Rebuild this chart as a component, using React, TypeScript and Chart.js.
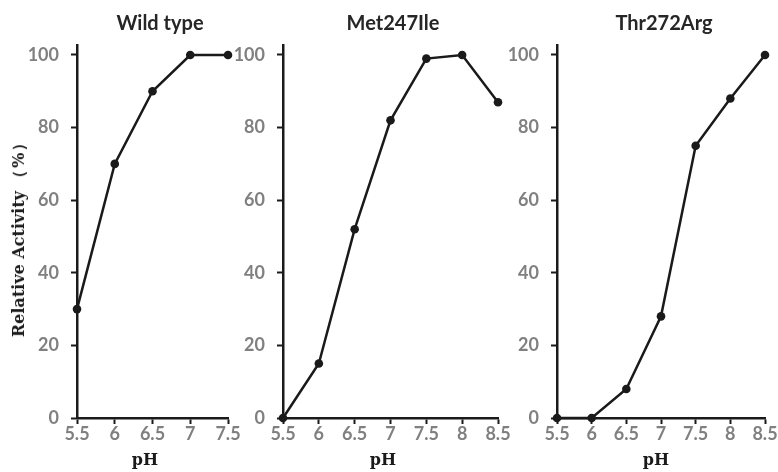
import React, { useEffect, useRef } from "react";
import { Chart, registerables } from "chart.js";

Chart.register(...registerables);

// ---- data ----
const panelTitles = ["Wild type", "Met247Ile", "Thr272Arg"];
const wildTypePH = ["5.5", "6", "6.5", "7", "7.5"];
const wildTypeActivity = [30, 70, 90, 100, 100];
const met247IlePH = ["5.5", "6", "6.5", "7", "7.5", "8", "8.5"];
const met247IleActivity = [0, 15, 52, 82, 99, 100, 87];
const thr272ArgPH = ["5.5", "6", "6.5", "7", "7.5", "8", "8.5"];
const thr272ArgActivity = [0, 0, 8, 28, 75, 88, 100];
const yTickValues = [0, 20, 40, 60, 80, 100];
const xAxisTitle = "pH";
const yAxisTitleMain = "Relative Activity";
const yAxisTitleUnit = "（%）";

// ---- layout ----
const W = 778;
const H = 472;
const AREA_TOP = 45;
const AREA_BOTTOM = 418;
const Y_MAX = 102.75;
const X_AXIS_H = 34;
const Y_AXIS_W = 60;

const panels = [
  { labels: wildTypePH, values: wildTypeActivity, left: 77, right: 228, titleX: 160, phX: 145 },
  { labels: met247IlePH, values: met247IleActivity, left: 283, right: 498, titleX: 393, phX: 383 },
  { labels: thr272ArgPH, values: thr272ArgActivity, left: 557, right: 765, titleX: 664, phX: 656 },
];

const INK = "#1a1a1a";
const TICK_FONT = { family: "Lato, 'Open Sans', sans-serif", size: 18, weight: "bold" as const };

function Panel({ idx }: { idx: number }) {
  const ref = useRef<HTMLCanvasElement | null>(null);
  useEffect(() => {
    const p = panels[idx];
    const chart = new Chart(ref.current!, {
      type: "line",
      data: {
        labels: p.labels,
        datasets: [
          {
            data: p.values,
            borderColor: INK,
            backgroundColor: INK,
            borderWidth: 2.5,
            pointRadius: 4.3,
            pointBackgroundColor: INK,
            pointBorderColor: INK,
            pointBorderWidth: 0,
            tension: 0,
            clip: false as any,
          },
        ],
      },
      options: {
        animation: false,
        responsive: false,
        devicePixelRatio: 1,
        events: [],
        layout: {
          padding: {
            left: p.left - Y_AXIS_W,
            right: W - p.right,
            top: AREA_TOP,
            bottom: H - AREA_BOTTOM - X_AXIS_H,
          },
        },
        plugins: {
          legend: { display: false },
          title: { display: false },
          tooltip: { enabled: false },
        },
        scales: {
          x: {
            type: "category",
            offset: false,
            grid: {
              display: true,
              drawOnChartArea: false,
              drawTicks: true,
              tickLength: 6,
              tickColor: INK,
              tickWidth: 2,
            },
            border: { display: true, color: INK, width: 2.5 },
            ticks: {
              color: "#808080",
              font: TICK_FONT,
              padding: -1,
              maxRotation: 0,
              autoSkip: false,
            },
            afterFit: (s: any) => {
              s.height = X_AXIS_H;
            },
          },
          y: {
            type: "linear",
            min: 0,
            max: Y_MAX,
            grid: {
              display: true,
              drawOnChartArea: false,
              drawTicks: true,
              tickLength: 6,
              tickColor: INK,
              tickWidth: 2,
            },
            border: { display: true, color: INK, width: 2.5 },
            ticks: {
              color: "#808080",
              font: TICK_FONT,
              padding: 12,
            },
            afterBuildTicks: (s: any) => {
              s.ticks = yTickValues.map((v) => ({ value: v }));
            },
            afterFit: (s: any) => {
              s.width = Y_AXIS_W;
            },
          },
        },
      },
    });
    return () => chart.destroy();
  }, [idx]);
  return (
    <canvas
      ref={ref}
      width={W}
      height={H}
      style={{ position: "absolute", left: 0, top: 0, width: W, height: H }}
    />
  );
}

export default function App() {
  const titleStyle: React.CSSProperties = {
    position: "absolute",
    top: 9,
    transform: "translateX(-50%)",
    font: "bold 20px Lato, 'Open Sans', sans-serif",
    color: "#262626",
    whiteSpace: "nowrap",
    lineHeight: "26px",
  };
  const phStyle: React.CSSProperties = {
    position: "absolute",
    top: 449,
    transform: "translateX(-50%)",
    font: "bold 16px 'DejaVu Serif', serif",
    color: "#1a1a1a",
    whiteSpace: "nowrap",
    lineHeight: "22px",
  };
  return (
    <div
      style={{
        position: "absolute",
        left: 0,
        top: 0,
        width: W,
        height: H,
        background: "#ffffff",
        overflow: "hidden",
      }}
    >
      {panels.map((_, i) => (
        <Panel key={i} idx={i} />
      ))}
      {panels.map((p, i) => (
        <div key={"t" + i} style={{ ...titleStyle, left: p.titleX }}>
          {panelTitles[i]}
        </div>
      ))}
      {panels.map((p, i) => (
        <div key={"x" + i} style={{ ...phStyle, left: p.phX }}>
          {xAxisTitle}
        </div>
      ))}
      <div
        style={{
          position: "absolute",
          left: 19,
          top: 235,
          transform: "translate(-50%, -50%) rotate(-90deg)",
          font: "bold 16px 'DejaVu Serif', serif",
          color: "#1a1a1a",
          whiteSpace: "nowrap",
          lineHeight: "18px",
        }}
      >
        {yAxisTitleMain}
        <span style={{ marginLeft: 5, letterSpacing: 2 }}>{yAxisTitleUnit}</span>
      </div>
    </div>
  );
}
